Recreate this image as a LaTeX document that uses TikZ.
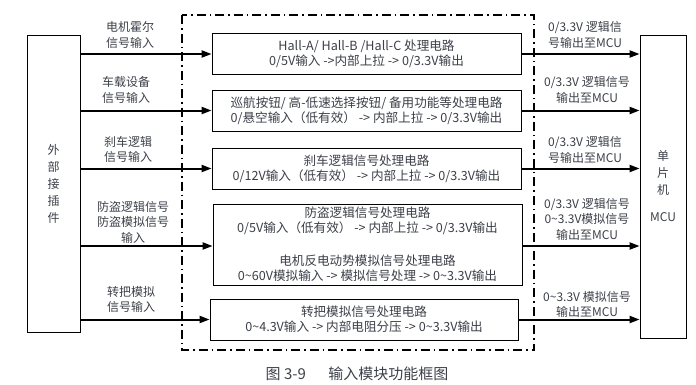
\documentclass[tikz,border=0pt]{standalone}
\usepackage{fontspec}
\setmainfont{Noto Sans CJK SC}
\usepackage{tikz}
\usetikzlibrary{arrows.meta, positioning, calc}
\definecolor{txtgray}{RGB}{60, 64, 72}

\tikzset{
  procbox/.style={draw=black, line width=0.8pt, fill=white, minimum width=309pt, minimum height=41pt,
    align=center, text=txtgray, font=\fontsize{12.6}{15}\selectfont, inner sep=2pt},
  sidebox/.style={draw=black, line width=0.8pt, align=center, text=txtgray,
    font=\fontsize{12}{17}\selectfont, inner sep=0pt},
  sigarrow/.style={line width=2pt, -{Triangle[length=10pt, width=7pt]}},
  sigtext/.style={align=center, text=txtgray, font=\fontsize{12}{15.5}\selectfont, inner sep=0pt},
  frameline/.style={line width=1.8pt, dash pattern=on 9pt off 4pt on 1.5pt off 4pt}
}

\begin{document}
\begin{tikzpicture}[x=1pt, y=-1pt]
  \useasboundingbox (0,0) rectangle (696,384);

  % dash-dot frame of the input module
  \draw[frameline] (182,15) rectangle (534,350);

  % side blocks
  \node[sidebox, minimum width=53pt, minimum height=297pt] (ext) at (53.5,183.5) {外\\部\\接\\插\\件};
  \node[sidebox, minimum width=46pt, minimum height=303pt] (mcu) at (663,186.5) {单\\片\\机\\[10pt]MCU};

  % processing circuits
  \node[procbox] (hall) at (366.5,54) {Hall-A/ Hall-B /Hall-C 处理电路\\0/5V输入 ->内部上拉 -> 0/3.3V输出};
  \node[procbox] (key) at (366.5,110.5) {巡航按钮/ 高-低速选择按钮/ 备用功能等处理电路\\0/悬空输入（低有效） -> 内部上拉 -> 0/3.3V输出};
  \node[procbox] (brake) at (366.5,168.5) {刹车逻辑信号处理电路\\0/12V输入（低有效） -> 内部上拉 -> 0/3.3V输出};
  \node[procbox, minimum height=81pt] (guard) at (367.5,244.5) {防盗逻辑信号处理电路\\0/5V输入（低有效） -> 内部上拉 -> 0/3.3V输出\\[18pt]
    电机反电动势模拟信号处理电路\\0\textasciitilde{}60V模拟输入 -> 模拟信号处理 -> 0\textasciitilde{}3.3V输出};
  \node[procbox, minimum width=308pt] (grip) at (364,319.5) {转把模拟信号处理电路\\0\textasciitilde{}4.3V输入 -> 内部电阻分压 -> 0\textasciitilde{}3.3V输出};

  % inputs
  \foreach \blk in {hall, key, brake, grip}
    \draw[sigarrow] (ext.east |- \blk.west) -- (\blk.west);
  \draw[sigarrow] (ext.east |- 0,246) -- (guard.west |- 0,246);

  % outputs
  \foreach \blk in {hall, key, brake, grip}
    \draw[sigarrow] (\blk.east) -- (mcu.west |- \blk.east);
  \draw[sigarrow] (guard.east |- 0,246) -- (mcu.west |- 0,246);

  % input labels
  \node[sigtext] (inhall) at (130,35) {电机霍尔\\信号输入};
  \node[sigtext] (inkey) at (126,90) {车载设备\\信号输入};
  \node[sigtext] (inbrake) at (128,149.5) {刹车逻辑\\信号输入};
  \node[sigtext] (inguard) at (133,222) {防盗逻辑信号\\防盗模拟信号\\输入};
  \node[sigtext] (ingrip) at (131,299.5) {转把模拟\\信号输入};

  % output labels
  \node[sigtext] (outhall) at (585,35) {0/3.3V 逻辑信\\号输出至MCU};
  \node[sigtext] (outkey) at (587,90) {0/3.3V 逻辑信号\\输出至MCU};
  \node[sigtext] (outbrake) at (585,150) {0/3.3V 逻辑信\\号输出至MCU};
  \node[sigtext] (outguard) at (587,219) {0/3.3V 逻辑信号\\0\textasciitilde{}3.3V模拟信号\\输出至MCU};
  \node[sigtext] (outgrip) at (587,304.5) {0\textasciitilde{}3.3V 模拟信号\\输出至MCU};

  % caption
  \node[text=txtgray, font=\fontsize{15}{17}\selectfont, inner sep=0pt] (caption) at (357,374) {图 3-9\hspace{1.5em}输入模块功能框图};
\end{tikzpicture}
\end{document}
